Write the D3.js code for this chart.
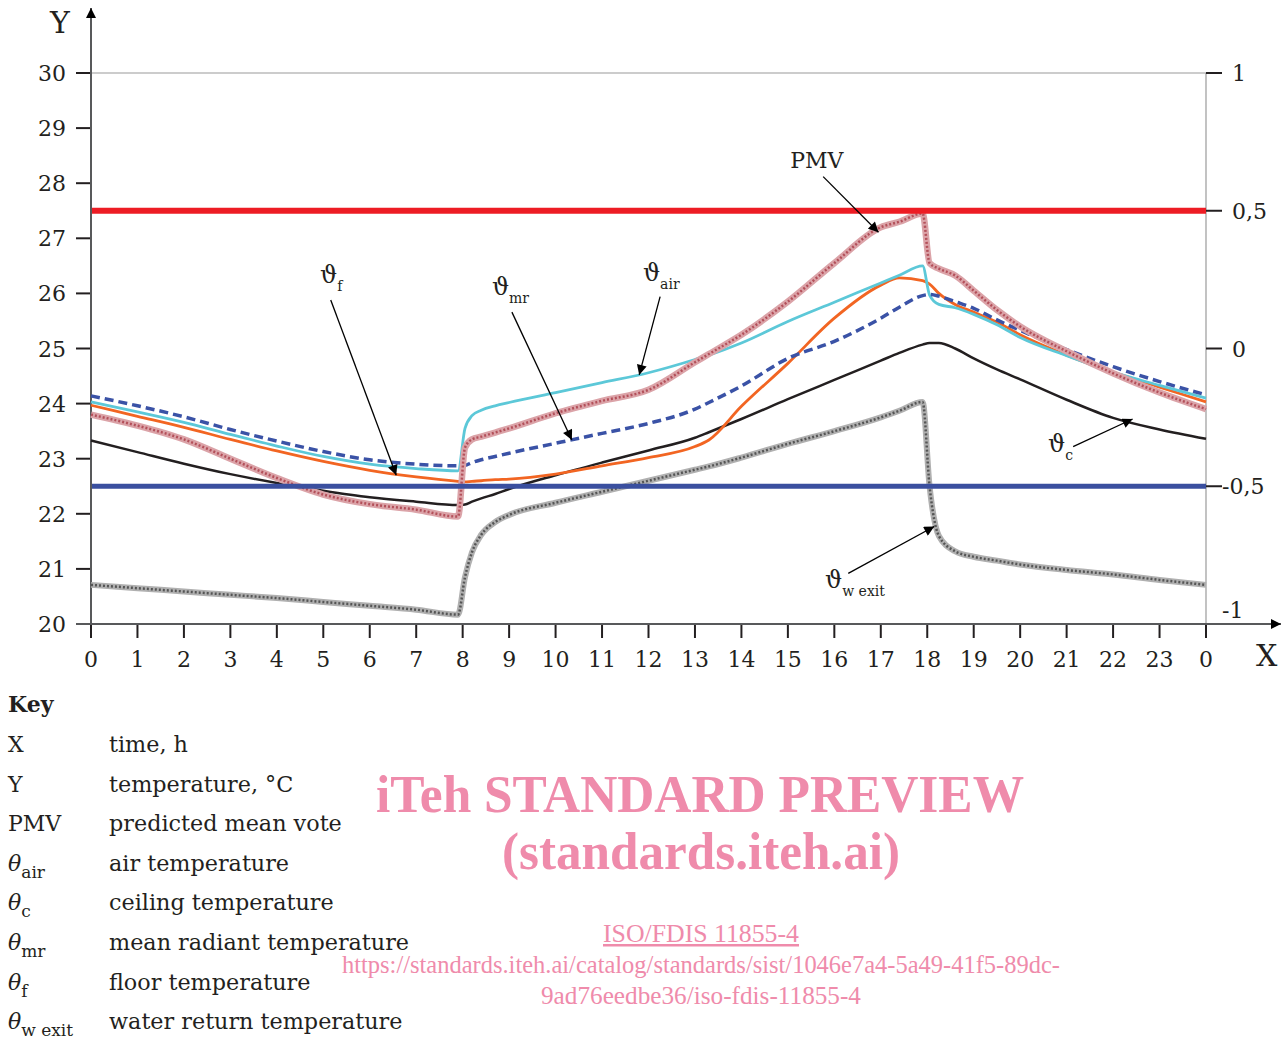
<!DOCTYPE html>
<html>
<head>
<meta charset="utf-8">
<script src="https://cdn.jsdelivr.net/npm/d3@7"></script>
<style>
  body { margin: 0; background: #fff; }
  svg text { font-family: "DejaVu Serif", serif; fill: #231f20; }
</style>
</head>
<body>
<div id="chart"></div>
<script>
// hourly samples (extra points around the switching times 8 h and 18 h)
var hours = [0,1,2,3,4,5,6,7,7.9,8.05,8.2,8.4,8.7,9,10,11,12,13,13.3,14,15,16,17,17.4,17.9,18.05,18.25,18.6,19,19.5,20,21,22,23,24];

// temperatures, deg C
var airTemp     = [24.03,23.85,23.66,23.44,23.23,23.04,22.90,22.82,22.78,23.55,23.78,23.88,23.96,24.02,24.20,24.38,24.56,24.80,24.88,25.10,25.49,25.84,26.19,26.33,26.50,25.97,25.80,25.74,25.62,25.43,25.20,24.87,24.57,24.33,24.10];
var floorTemp   = [23.97,23.77,23.57,23.35,23.14,22.95,22.79,22.67,22.59,22.58,22.59,22.60,22.62,22.63,22.72,22.87,23.02,23.22,23.34,23.95,24.73,25.55,26.15,26.28,26.23,26.17,26.00,25.80,25.66,25.48,25.25,24.88,24.57,24.30,24.03];
var meanRadTemp = [24.14,23.96,23.76,23.53,23.32,23.13,22.98,22.90,22.87,22.88,22.93,22.98,23.04,23.10,23.28,23.46,23.64,23.90,24.02,24.32,24.82,25.13,25.55,25.75,25.96,25.98,25.95,25.85,25.73,25.52,25.33,24.98,24.67,24.40,24.16];
var ceilingTemp = [23.33,23.12,22.91,22.72,22.56,22.42,22.30,22.22,22.16,22.17,22.22,22.28,22.36,22.45,22.70,22.93,23.15,23.38,23.48,23.72,24.08,24.43,24.78,24.92,25.07,25.10,25.10,25.00,24.82,24.62,24.44,24.07,23.74,23.53,23.36];
var waterExitTemp = [20.71,20.65,20.59,20.53,20.47,20.40,20.33,20.26,20.17,20.85,21.30,21.62,21.85,21.98,22.20,22.40,22.60,22.80,22.86,23.02,23.27,23.50,23.75,23.87,24.03,22.50,21.60,21.32,21.22,21.15,21.08,20.98,20.90,20.80,20.71];

// predicted mean vote (right axis)
var pmv = [-0.24,-0.28,-0.33,-0.40,-0.47,-0.53,-0.565,-0.585,-0.61,-0.36,-0.33,-0.32,-0.305,-0.29,-0.235,-0.19,-0.15,-0.05,-0.02,0.05,0.17,0.31,0.44,0.46,0.49,0.31,0.29,0.265,0.21,0.14,0.08,-0.01,-0.09,-0.16,-0.22];
var pmvLimits = [0.5, -0.5];

var xTicks = d3.range(0, 25);
var xTickLabels = ["0","1","2","3","4","5","6","7","8","9","10","11","12","13","14","15","16","17","18","19","20","21","22","23","0"];
var tempTicks = [20,21,22,23,24,25,26,27,28,29,30];
var pmvTicks = [1, 0.5, 0, -0.5, -1];
var pmvTickLabels = ["1","0,5","0","-0,5","-1"];

var keySymbols = ["X","Y","PMV","θ|air","θ|c","θ|mr","θ|f","θ|w exit"];
var keyTexts = ["time, h","temperature, °C","predicted mean vote","air temperature","ceiling temperature","mean radiant temperature","floor temperature","water return temperature"];

// annotation labels: [text, subscript, label hour, label temp, line from (h,t), line to (h,t)]
var notes = [
  ["ϑ","f",   4.93,26.19, 5.16,25.88, 6.57,22.70],
  ["ϑ","mr",  8.63,25.97, 9.06,25.66, 10.35,23.34],
  ["ϑ","air", 11.88,26.23, 12.25,25.94, 11.80,24.52],
  ["PMV","",  15.05,28.28, 15.76,28.12, 16.95,27.11],
  ["ϑ","c",   20.6,23.12, 21.14,23.22, 22.42,23.72],
  ["ϑ","w exit", 15.80,20.65, 16.30,20.92, 18.15,21.77]
];

var W = 1283, H = 1039;
var svg = d3.select("#chart").append("svg").attr("width", W).attr("height", H);

var x = d3.scaleLinear().domain([0, 24]).range([91, 1206]);
var yT = d3.scaleLinear().domain([20, 30]).range([624, 73]);
var yP = d3.scaleLinear().domain([-1, 1]).range([624, 73]);

var defs = svg.append("defs");
defs.append("marker").attr("id", "arr").attr("viewBox", "0 0 10 10")
  .attr("refX", 10).attr("refY", 5).attr("markerWidth", 14).attr("markerHeight", 10)
  .attr("markerUnits", "userSpaceOnUse").attr("orient", "auto")
  .append("path").attr("d", "M0,0 L10,5 L0,10 z").attr("fill", "#000");

// frame: top grid line + right axis
svg.append("line").attr("x1", x(0)).attr("x2", x(24)).attr("y1", yT(30)).attr("y2", yT(30))
  .attr("stroke", "#9a9a9a").attr("stroke-width", 1.2);
svg.append("line").attr("x1", x(24)).attr("x2", x(24)).attr("y1", yT(30)).attr("y2", yT(20))
  .attr("stroke", "#9a9a9a").attr("stroke-width", 1.2);

// left axis ticks & labels
svg.selectAll(".lt").data(tempTicks).enter().append("line")
  .attr("x1", x(0) - 15).attr("x2", x(0)).attr("y1", d => yT(d)).attr("y2", d => yT(d))
  .attr("stroke", "#231f20").attr("stroke-width", 2);
svg.selectAll(".ll").data(tempTicks).enter().append("text")
  .attr("x", 66).attr("y", d => yT(d) + 8).attr("text-anchor", "end")
  .attr("font-size", 22).text(d => d);

// right axis ticks & labels
svg.selectAll(".rt").data(pmvTicks).enter().append("line")
  .attr("x1", x(24)).attr("x2", x(24) + 16).attr("y1", d => yP(d)).attr("y2", d => yP(d))
  .attr("stroke", "#231f20").attr("stroke-width", 2);
svg.selectAll(".rl").data(pmvTicks).enter().append("text")
  .attr("x", d => d < 0 ? 1222 : 1232)
  .attr("y", d => yP(d) + 8 - (d === -1 ? 14 : 0))
  .attr("font-size", 22).text((d, i) => pmvTickLabels[i]);

// x axis ticks & labels
svg.selectAll(".bt").data(xTicks).enter().append("line")
  .attr("x1", d => x(d)).attr("x2", d => x(d)).attr("y1", yT(20)).attr("y2", yT(20) + 14)
  .attr("stroke", "#231f20").attr("stroke-width", 2);
svg.selectAll(".bl").data(xTicks).enter().append("text")
  .attr("x", d => x(d)).attr("y", 667).attr("text-anchor", "middle")
  .attr("font-size", 22).text((d, i) => xTickLabels[i]);

// axis lines with arrows
svg.append("line").attr("x1", x(0)).attr("x2", x(0)).attr("y1", yT(20)).attr("y2", 8)
  .attr("stroke", "#58595b").attr("stroke-width", 2).attr("marker-end", "url(#arr)");
svg.append("line").attr("x1", x(0) - 15).attr("x2", 1281).attr("y1", yT(20)).attr("y2", yT(20))
  .attr("stroke", "#58595b").attr("stroke-width", 2).attr("marker-end", "url(#arr)");
svg.append("text").attr("x", 50).attr("y", 33).attr("font-size", 30).text("Y");
svg.append("text").attr("x", 1256).attr("y", 666).attr("font-size", 30).text("X");

// series
function tLine(vals) {
  return d3.line().x((d, i) => x(hours[i])).y(d => yT(d)).curve(d3.curveMonotoneX)(vals);
}
var pLine = d3.line().x((d, i) => x(hours[i])).y(d => yP(d)).curve(d3.curveMonotoneX);

var g = svg.append("g").attr("fill", "none").attr("stroke-linejoin", "round");
g.append("path").attr("d", tLine(waterExitTemp)).attr("stroke", "#b0b0b0").attr("stroke-width", 6);
g.append("path").attr("d", tLine(waterExitTemp)).attr("stroke", "#555").attr("stroke-width", 2.5).attr("stroke-dasharray", "2,2");
g.append("path").attr("d", tLine(ceilingTemp)).attr("stroke", "#231f20").attr("stroke-width", 2.5);
g.append("path").attr("d", tLine(floorTemp)).attr("stroke", "#f26522").attr("stroke-width", 2.8);
g.append("path").attr("d", tLine(airTemp)).attr("stroke", "#5cc8d8").attr("stroke-width", 2.8);
g.append("path").attr("d", tLine(meanRadTemp)).attr("stroke", "#3a52a6").attr("stroke-width", 3.5).attr("stroke-dasharray", "9,5");
g.append("path").attr("d", pLine(pmv)).attr("stroke", "#dba3a8").attr("stroke-width", 6.5);
g.append("path").attr("d", pLine(pmv)).attr("stroke", "#b3505a").attr("stroke-width", 2.5).attr("stroke-dasharray", "2,2");

// PMV comfort limits
svg.selectAll(".lim").data(pmvLimits).enter().append("line")
  .attr("x1", x(0) + 1).attr("x2", x(24)).attr("y1", d => yP(d)).attr("y2", d => yP(d))
  .attr("stroke", d => d > 0 ? "#ed1c24" : "#3a4f9f").attr("stroke-width", d => d > 0 ? 6 : 5);

// annotations
notes.forEach(function (n) {
  var t = svg.append("text").attr("x", x(n[2])).attr("y", yT(n[3])).attr("font-size", n[1] ? 24 : 22).text(n[0]);
  if (n[1]) t.append("tspan").attr("font-size", 14).attr("dy", 8).text(n[1]);
  svg.append("line").attr("x1", x(n[4])).attr("y1", yT(n[5])).attr("x2", x(n[6])).attr("y2", yT(n[7]))
    .attr("stroke", "#000").attr("stroke-width", 1.3).attr("marker-end", "url(#arr)");
});

// key
svg.append("text").attr("x", 8).attr("y", 712).attr("font-size", 22).attr("font-weight", "bold").text("Key");
keySymbols.forEach(function (s, i) {
  var yy = 752 + i * 39.6;
  var parts = s.split("|");
  var t = svg.append("text").attr("x", 8).attr("y", yy).attr("font-size", 22);
  if (parts.length > 1) {
    t.append("tspan").attr("font-style", "italic").text(parts[0]);
    t.append("tspan").attr("font-size", 17).attr("dy", 7).text(parts[1]);
  } else {
    t.text(s);
  }
  svg.append("text").attr("x", 109).attr("y", yy).attr("font-size", 22.3).text(keyTexts[i]);
});

// watermark
var wm = svg.append("g").style("font-family", "'Liberation Serif', serif");
wm.append("text").attr("x", 700).attr("y", 812).attr("text-anchor", "middle").attr("font-size", 52)
  .attr("font-weight", "bold").attr("textLength", 648).attr("lengthAdjust", "spacingAndGlyphs")
  .style("fill", "#ef8bab").style("font-family", "'Liberation Serif', serif").text("iTeh STANDARD PREVIEW");
wm.append("text").attr("x", 701).attr("y", 869).attr("text-anchor", "middle").attr("font-size", 52)
  .attr("font-weight", "bold").attr("textLength", 398).attr("lengthAdjust", "spacingAndGlyphs")
  .style("fill", "#ef8bab").style("font-family", "'Liberation Serif', serif").text("(standards.iteh.ai)");
wm.append("text").attr("x", 701).attr("y", 942).attr("text-anchor", "middle").attr("font-size", 25)
  .attr("textLength", 196).attr("lengthAdjust", "spacingAndGlyphs").attr("text-decoration", "underline")
  .style("fill", "#ef8bab").style("font-family", "'Liberation Serif', serif").text("ISO/FDIS 11855-4");
wm.append("text").attr("x", 701).attr("y", 973).attr("text-anchor", "middle").attr("font-size", 25)
  .attr("textLength", 718).attr("lengthAdjust", "spacingAndGlyphs")
  .style("fill", "#ef8bab").style("font-family", "'Liberation Serif', serif")
  .text("https://standards.iteh.ai/catalog/standards/sist/1046e7a4-5a49-41f5-89dc-");
wm.append("text").attr("x", 701).attr("y", 1004).attr("text-anchor", "middle").attr("font-size", 25)
  .attr("textLength", 320).attr("lengthAdjust", "spacingAndGlyphs")
  .style("fill", "#ef8bab").style("font-family", "'Liberation Serif', serif").text("9ad76eedbe36/iso-fdis-11855-4");
</script>
</body>
</html>
